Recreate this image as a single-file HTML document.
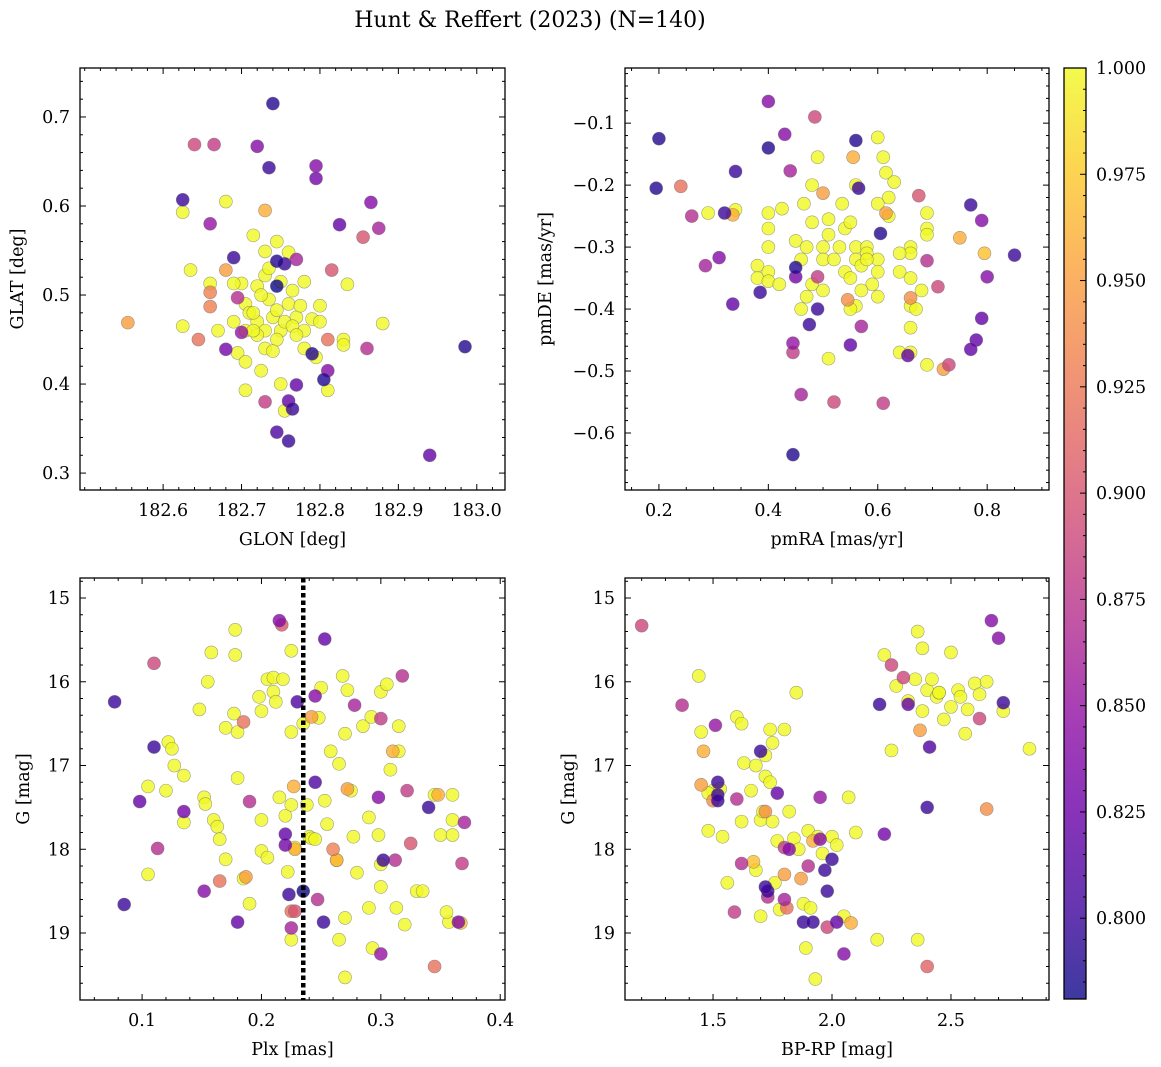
<!DOCTYPE html>
<html><head><meta charset="utf-8">
<style>
html,body{margin:0;padding:0;background:#fff;}
svg{display:block;font-family:"DejaVu Serif","Liberation Serif",serif;}
</style></head>
<body>
<svg id="fig" width="1161" height="1067" viewBox="0 0 1161 1067" xmlns="http://www.w3.org/2000/svg">
<text x="530" y="27" text-anchor="middle" font-size="22">Hunt &amp; Reffert (2023) (N=140)</text>
<defs>
<linearGradient id="plasma" x1="0" y1="1" x2="0" y2="0">
<stop offset="0" stop-color="#0d0887"/><stop offset="0.1" stop-color="#41049d"/><stop offset="0.2" stop-color="#6a00a8"/><stop offset="0.3" stop-color="#8f0da4"/><stop offset="0.4" stop-color="#b12a90"/><stop offset="0.5" stop-color="#cc4778"/><stop offset="0.6" stop-color="#e16462"/><stop offset="0.7" stop-color="#f2844b"/><stop offset="0.8" stop-color="#fca636"/><stop offset="0.9" stop-color="#fcce25"/><stop offset="1" stop-color="#f0f921"/>
</linearGradient>
</defs>
</svg>
<script>
// ---------- data ----------
const p1Dark = [[182.74,0.715,0.79],[182.735,0.643,0.8],[182.72,0.667,0.84],[182.64,0.669,0.89],[182.665,0.669,0.88],[182.625,0.607,0.8],[182.66,0.58,0.85],[182.795,0.645,0.84],[182.795,0.631,0.83],[182.865,0.604,0.84],[182.825,0.579,0.82],[182.875,0.575,0.86],[182.855,0.565,0.9],[182.755,0.535,0.8],[182.745,0.538,0.79],[182.77,0.54,0.86],[182.815,0.528,0.9],[182.69,0.542,0.8],[182.745,0.51,0.78],[182.985,0.442,0.79],[182.94,0.32,0.82],[182.68,0.439,0.83],[182.76,0.381,0.82],[182.765,0.372,0.8],[182.745,0.346,0.81],[182.76,0.336,0.8],[182.77,0.399,0.82],[182.79,0.434,0.79],[182.805,0.405,0.79],[182.81,0.415,0.84],[182.73,0.38,0.88],[182.86,0.44,0.87],[182.81,0.45,0.92],[182.645,0.45,0.92],[182.555,0.469,0.95],[182.66,0.503,0.93],[182.66,0.487,0.93],[182.68,0.528,0.95],[182.73,0.595,0.96],[182.70,0.458,0.85],[182.695,0.497,0.87]];
const p1Yellow = [[182.625,0.593],[182.68,0.605],[182.635,0.528],[182.66,0.513],[182.625,0.465],[182.67,0.46],[182.69,0.47],[182.695,0.435],[182.705,0.425],[182.705,0.393],[182.725,0.415],[182.73,0.44],[182.73,0.549],[182.715,0.567],[182.745,0.56],[182.76,0.548],[182.73,0.522],[182.72,0.51],[182.705,0.49],[182.72,0.47],[182.74,0.475],[182.75,0.46],[182.76,0.49],[182.77,0.475],[182.735,0.495],[182.745,0.483],[182.755,0.47],[182.765,0.465],[182.73,0.46],[182.745,0.45],[182.72,0.455],[182.71,0.48],[182.7,0.513],[182.69,0.513],[182.775,0.488],[182.78,0.46],[182.79,0.473],[182.8,0.47],[182.8,0.488],[182.78,0.44],[182.795,0.43],[182.81,0.393],[182.83,0.45],[182.83,0.444],[182.835,0.512],[182.88,0.468],[182.755,0.37],[182.75,0.4],[182.74,0.437],[182.715,0.48],[182.725,0.5],[182.705,0.46],[182.765,0.505],[182.77,0.455],[182.78,0.515],[182.75,0.515],[182.735,0.53],[182.715,0.46]];

const p2Dark = [[0.4,-0.065,0.84],[0.485,-0.09,0.89],[0.43,-0.118,0.84],[0.2,-0.125,0.79],[0.4,-0.14,0.79],[0.56,-0.128,0.79],[0.34,-0.178,0.8],[0.44,-0.177,0.86],[0.195,-0.205,0.79],[0.24,-0.202,0.92],[0.565,-0.205,0.8],[0.675,-0.217,0.9],[0.77,-0.232,0.8],[0.79,-0.257,0.84],[0.26,-0.25,0.87],[0.32,-0.245,0.8],[0.31,-0.317,0.84],[0.285,-0.33,0.86],[0.605,-0.278,0.79],[0.69,-0.322,0.87],[0.8,-0.348,0.84],[0.85,-0.313,0.8],[0.335,-0.392,0.82],[0.385,-0.373,0.8],[0.45,-0.333,0.79],[0.45,-0.348,0.83],[0.49,-0.348,0.88],[0.49,-0.4,0.8],[0.475,-0.425,0.8],[0.55,-0.458,0.82],[0.57,-0.428,0.86],[0.445,-0.455,0.85],[0.445,-0.47,0.88],[0.46,-0.538,0.86],[0.52,-0.55,0.89],[0.61,-0.552,0.88],[0.445,-0.635,0.79],[0.71,-0.364,0.89],[0.79,-0.415,0.82],[0.78,-0.45,0.82],[0.77,-0.465,0.82],[0.73,-0.49,0.89],[0.72,-0.497,0.95],[0.655,-0.475,0.82],[0.66,-0.382,0.94],[0.545,-0.385,0.94],[0.5,-0.213,0.95],[0.555,-0.155,0.96],[0.615,-0.245,0.95],[0.335,-0.248,0.96],[0.75,-0.285,0.96],[0.795,-0.31,0.97]];
const p2Yellow = [[0.29,-0.245],[0.34,-0.24],[0.4,-0.245],[0.425,-0.238],[0.465,-0.23],[0.49,-0.155],[0.48,-0.2],[0.51,-0.255],[0.535,-0.23],[0.56,-0.2],[0.6,-0.123],[0.61,-0.155],[0.615,-0.18],[0.63,-0.195],[0.62,-0.22],[0.6,-0.23],[0.69,-0.245],[0.69,-0.27],[0.69,-0.28],[0.66,-0.3],[0.66,-0.31],[0.64,-0.31],[0.64,-0.34],[0.66,-0.35],[0.68,-0.37],[0.66,-0.395],[0.67,-0.4],[0.66,-0.43],[0.64,-0.47],[0.66,-0.47],[0.69,-0.49],[0.38,-0.33],[0.38,-0.35],[0.4,-0.3],[0.4,-0.34],[0.4,-0.355],[0.4,-0.27],[0.42,-0.36],[0.45,-0.29],[0.46,-0.32],[0.47,-0.3],[0.48,-0.26],[0.48,-0.36],[0.5,-0.3],[0.5,-0.32],[0.51,-0.28],[0.52,-0.32],[0.53,-0.3],[0.54,-0.27],[0.54,-0.34],[0.55,-0.35],[0.56,-0.3],[0.56,-0.32],[0.57,-0.33],[0.58,-0.3],[0.58,-0.31],[0.59,-0.36],[0.6,-0.32],[0.6,-0.38],[0.56,-0.395],[0.55,-0.4],[0.57,-0.37],[0.47,-0.38],[0.46,-0.4],[0.51,-0.48],[0.55,-0.26],[0.62,-0.25],[0.6,-0.34],[0.5,-0.37],[0.58,-0.32]];

const p3Dark = [[0.077,16.24,0.8],[0.085,18.66,0.8],[0.098,17.43,0.82],[0.11,16.78,0.8],[0.11,15.78,0.89],[0.113,17.99,0.87],[0.135,17.55,0.83],[0.152,18.5,0.84],[0.18,18.87,0.82],[0.19,17.43,0.87],[0.215,15.27,0.84],[0.217,15.32,0.9],[0.22,17.82,0.82],[0.22,17.95,0.83],[0.223,18.54,0.8],[0.225,18.94,0.86],[0.228,18.74,0.9],[0.235,18.5,0.78],[0.23,16.24,0.81],[0.245,16.17,0.84],[0.245,17.2,0.81],[0.247,18.6,0.87],[0.252,18.87,0.8],[0.253,15.49,0.82],[0.278,16.28,0.86],[0.298,17.38,0.84],[0.3,19.25,0.85],[0.302,18.13,0.8],[0.3,16.44,0.88],[0.31,16.83,0.96],[0.312,18.13,0.87],[0.318,15.93,0.87],[0.322,17.3,0.88],[0.325,17.93,0.9],[0.34,17.5,0.8],[0.345,19.4,0.92],[0.348,17.35,0.96],[0.365,18.87,0.84],[0.368,18.17,0.88],[0.37,17.68,0.86],[0.367,18.88,0.97],[0.26,18.0,0.93],[0.263,18.13,0.96],[0.272,17.28,0.95],[0.227,17.25,0.96],[0.228,18.0,0.96],[0.242,16.42,0.95],[0.187,18.33,0.95],[0.165,18.38,0.92],[0.185,16.48,0.92],[0.225,18.74,0.92]];
const p3Yellow = [[0.105,18.3],[0.105,17.25],[0.12,17.3],[0.122,16.72],[0.125,16.8],[0.127,17.0],[0.135,17.12],[0.135,17.68],[0.148,16.33],[0.152,17.38],[0.153,17.46],[0.155,16.0],[0.158,15.65],[0.16,17.65],[0.163,17.73],[0.165,17.88],[0.17,18.12],[0.17,16.55],[0.177,16.38],[0.178,15.38],[0.178,15.68],[0.18,16.6],[0.18,17.15],[0.185,18.35],[0.19,18.65],[0.198,16.18],[0.2,16.35],[0.2,17.65],[0.2,18.02],[0.205,18.1],[0.205,15.97],[0.21,15.95],[0.21,16.12],[0.212,16.24],[0.215,17.38],[0.218,15.97],[0.22,17.6],[0.222,18.27],[0.225,15.63],[0.225,16.6],[0.225,17.47],[0.225,19.08],[0.228,17.98],[0.235,16.5],[0.238,17.47],[0.24,17.85],[0.242,17.87],[0.245,17.88],[0.248,16.43],[0.25,16.07],[0.253,17.42],[0.255,17.7],[0.258,16.83],[0.263,18.13],[0.265,16.98],[0.265,19.08],[0.268,15.93],[0.27,16.62],[0.27,18.82],[0.27,19.53],[0.272,16.1],[0.275,17.3],[0.277,17.85],[0.28,18.28],[0.285,16.53],[0.29,17.62],[0.29,18.7],[0.292,16.42],[0.293,19.18],[0.298,17.83],[0.3,16.12],[0.3,18.18],[0.3,18.45],[0.305,16.03],[0.308,17.05],[0.315,16.53],[0.313,18.7],[0.315,16.83],[0.32,18.9],[0.33,18.5],[0.335,18.5],[0.345,17.35],[0.35,17.83],[0.36,17.35],[0.357,18.87],[0.36,17.65],[0.36,17.83],[0.355,18.75]];
const plxCut = [0.235];

const p4Dark = [[1.2,15.33,0.89],[1.37,16.28,0.87],[1.51,16.52,0.85],[1.52,17.2,0.8],[1.52,17.35,0.8],[1.52,17.42,0.8],[1.6,17.4,0.87],[1.59,18.75,0.88],[1.62,18.17,0.87],[1.7,16.83,0.8],[1.73,18.5,0.8],[1.72,18.45,0.8],[1.73,18.57,0.87],[1.77,17.33,0.82],[1.8,18.6,0.86],[1.81,18.7,0.92],[1.8,17.98,0.88],[1.82,18.0,0.84],[1.88,18.87,0.8],[1.92,18.87,0.8],[1.9,18.2,0.87],[1.95,17.88,0.84],[1.95,17.38,0.85],[1.97,18.25,0.8],[1.98,18.5,0.8],[2.0,18.12,0.8],[1.98,18.93,0.89],[2.02,18.87,0.82],[2.05,19.25,0.84],[2.08,18.88,0.96],[2.2,16.27,0.8],[2.22,17.82,0.83],[2.25,15.8,0.89],[2.3,15.95,0.89],[2.32,16.27,0.82],[2.37,16.58,0.95],[2.41,16.78,0.81],[2.4,17.5,0.8],[2.4,19.4,0.91],[2.62,16.44,0.89],[2.65,17.52,0.94],[2.67,15.27,0.84],[2.7,15.48,0.84],[2.72,16.25,0.8],[1.46,16.83,0.96],[1.45,17.23,0.95],[1.5,17.42,0.94],[1.67,18.15,0.97],[1.72,17.55,0.94],[1.87,18.35,0.95],[1.92,17.9,0.96],[1.8,18.3,0.95]];
const p4Yellow = [[1.44,15.93],[1.45,16.6],[1.5,17.3],[1.48,17.33],[1.53,17.28],[1.48,17.78],[1.54,17.85],[1.56,18.4],[1.6,16.42],[1.62,16.5],[1.62,17.67],[1.63,16.97],[1.66,17.3],[1.68,17.0],[1.68,18.25],[1.7,17.65],[1.7,18.8],[1.71,17.55],[1.72,16.88],[1.72,17.13],[1.74,17.2],[1.74,16.57],[1.75,17.67],[1.75,16.73],[1.76,18.4],[1.77,17.9],[1.78,18.72],[1.8,16.57],[1.82,17.55],[1.84,17.87],[1.85,16.13],[1.86,18.0],[1.88,18.65],[1.89,19.18],[1.9,17.78],[1.91,18.7],[1.93,19.55],[1.94,17.85],[1.96,18.05],[2.0,17.85],[2.02,17.95],[2.05,18.8],[2.07,17.38],[2.1,17.8],[2.19,19.08],[2.22,15.68],[2.25,16.82],[2.27,16.05],[2.32,16.23],[2.35,15.97],[2.36,15.4],[2.36,19.08],[2.38,16.35],[2.4,16.1],[2.42,15.97],[2.44,16.18],[2.45,16.13],[2.47,16.45],[2.5,16.3],[2.5,15.65],[2.53,16.1],[2.54,16.18],[2.56,16.62],[2.57,16.33],[2.6,16.02],[2.62,16.15],[2.65,16.0],[2.72,16.35],[2.83,16.8],[2.38,15.6],[2.45,16.13]];

const p1XTicks = [182.6,182.7,182.8,182.9,183.0];
const p1YTicks = [0.3,0.4,0.5,0.6,0.7];
const p2XTicks = [0.2,0.4,0.6,0.8];
const p2YTicks = [-0.1,-0.2,-0.3,-0.4,-0.5,-0.6];
const p3XTicks = [0.1,0.2,0.3,0.4];
const gTicks = [15,16,17,18,19];
const p4XTicks = [1.5,2.0,2.5];
const cbTicks = [0.8,0.825,0.85,0.875,0.9,0.925,0.95,0.975,1.0];
const cMin = 0.781, cMax = 1.0;

// ---------- drawing ----------
const svg = document.getElementById('fig');
const NS = 'http://www.w3.org/2000/svg';
const FS = 17.5;
function mk(tag, attrs, parent){const e=document.createElementNS(NS,tag);for(const k in attrs)e.setAttribute(k,attrs[k]);(parent||svg).appendChild(e);return e;}
const stops=[[13,8,135],[65,4,157],[106,0,168],[143,13,164],[177,42,144],[204,71,120],[225,100,98],[242,132,75],[252,166,54],[252,206,37],[240,249,33]];
function plasma(v){let t=(v-cMin)/(cMax-cMin);t=Math.max(0,Math.min(1,t))*10;const i=Math.min(9,Math.floor(t));const f=t-i;const a=stops[i],b=stops[i+1];return 'rgb('+a.map((c,k)=>Math.round(c+(b[k]-c)*f)).join(',')+')';}

function panel(cfg){
  const {x0,y0,x1,y1,xd,yd,name}=cfg;
  const sx=v=>x0+(v-xd[0])/(xd[1]-xd[0])*(x1-x0);
  const sy=v=>y0+(v-yd[0])/(yd[1]-yd[0])*(y1-y0);
  const g=mk('g',{});
  
  
  const pts=mk('g',{},g);
  
  
  const all=cfg.dark.map(d=>[d[0],d[1],d[2]]).concat(cfg.yellow.map(d=>[d[0],d[1],1.0]));
  all.sort((a,b)=>b[2]-a[2]);
  all.forEach(d=>{
    const c=mk('circle',{cx:sx(d[0]),cy:sy(d[1]),r:6.5,fill:plasma(d[2]),'fill-opacity':0.8,stroke:'#666','stroke-opacity':0.6,'stroke-width':0.6},pts);
    
    
  });
  if(cfg.vline){cfg.vline.forEach(v=>{const l=mk('line',{x1:sx(v),x2:sx(v),y1:y0,y2:y1,stroke:'#000','stroke-width':4.5,'stroke-dasharray':'4.5 3'},g);
    
    });}
  const fr=mk('rect',{x:x0,y:y0,width:x1-x0,height:y1-y0,fill:'none',stroke:'#000','stroke-width':1.3},g);
  
  
  const ax=mk('g',{stroke:'#000','stroke-width':1},g);
  const xlo=Math.min(...xd),xhi=Math.max(...xd);
  for(let v=Math.ceil(xlo/cfg.xmin-1e-9)*cfg.xmin; v<=xhi+1e-9; v+=cfg.xmin){
    const X=sx(v);const maj=cfg.xt.some(t=>Math.abs(t-v)<cfg.xmin/3);const L=maj?6:3;
    mk('line',{x1:X,x2:X,y1:y1,y2:y1-L},ax);mk('line',{x1:X,x2:X,y1:y0,y2:y0+L},ax);
  }
  const ylo=Math.min(...yd),yhi=Math.max(...yd);
  for(let v=Math.ceil(ylo/cfg.ymin-1e-9)*cfg.ymin; v<=yhi+1e-9; v+=cfg.ymin){
    const Y=sy(v);const maj=cfg.yt.some(t=>Math.abs(t-v)<cfg.ymin/3);const L=maj?6:3;
    mk('line',{x1:x0,x2:x0+L,y1:Y,y2:Y},ax);mk('line',{x1:x1,x2:x1-L,y1:Y,y2:Y},ax);
  }
  cfg.xt.forEach(t=>{const e=mk('text',{x:sx(t),y:y1+26,'text-anchor':'middle','font-size':FS},g);e.textContent=cfg.xfmt(t);
    
    });
  cfg.yt.forEach(t=>{const e=mk('text',{x:x0-10,y:sy(t)+6,'text-anchor':'end','font-size':FS},g);e.textContent=cfg.yfmt(t);
    
    });
  const xl=mk('text',{x:(x0+x1)/2,y:y1+55,'text-anchor':'middle','font-size':FS},g);xl.textContent=cfg.xlab;
  
  
  const ly=(y0+y1)/2;const yl=mk('text',{x:cfg.ylx,y:ly,'text-anchor':'middle','font-size':FS,transform:'rotate(-90 '+cfg.ylx+' '+ly+')'},g);yl.textContent=cfg.ylab;
  
  
}
const f1=t=>t.toFixed(1);
const neg=t=>(t<0?'\u2212':'')+Math.abs(t).toFixed(1);
const f0=t=>String(t);
panel({name:'glon-glat-panel',x0:80,y0:68,x1:505,y1:490,xd:[182.494,183.036],yd:[0.755,0.281],dark:p1Dark,yellow:p1Yellow,xt:p1XTicks,yt:p1YTicks,xmin:0.02,ymin:0.02,xfmt:f1,yfmt:f1,xlab:'GLON [deg]',ylab:'GLAT [deg]',ylx:23});
panel({name:'pm-panel',x0:625,y0:68,x1:1049,y1:490,xd:[0.138,0.913],yd:[-0.011,-0.692],dark:p2Dark,yellow:p2Yellow,xt:p2XTicks,yt:p2YTicks,xmin:0.05,ymin:0.02,xfmt:f1,yfmt:neg,xlab:'pmRA [mas/yr]',ylab:'pmDE [mas/yr]',ylx:551});
panel({name:'plx-g-panel',x0:80,y0:578,x1:505,y1:1000,xd:[0.048,0.404],yd:[14.761,19.8],dark:p3Dark,yellow:p3Yellow,vline:plxCut,xt:p3XTicks,yt:gTicks,xmin:0.02,ymin:0.2,xfmt:f1,yfmt:f0,xlab:'Plx [mas]',ylab:'G [mag]',ylx:29});
panel({name:'cmd-panel',x0:625,y0:578,x1:1049,y1:1000,xd:[1.130,2.912],yd:[14.761,19.8],dark:p4Dark,yellow:p4Yellow,xt:p4XTicks,yt:gTicks,xmin:0.1,ymin:0.2,xfmt:f1,yfmt:f0,xlab:'BP-RP [mag]',ylab:'G [mag]',ylx:574});

// colorbar
const cb=mk('g',{});


const cy0=68,cy1=999,cx0=1064,cx1=1086;
const cs=v=>cy1-(v-cMin)/(cMax-cMin)*(cy1-cy0);
mk('rect',{x:cx0,y:cy0,width:cx1-cx0,height:cy1-cy0,fill:'url(#plasma)','fill-opacity':0.8},cb);
mk('rect',{x:cx0,y:cy0,width:cx1-cx0,height:cy1-cy0,fill:'none',stroke:'#000','stroke-width':1.3},cb);
for(let v=0.785;v<=1.0001;v+=0.005){const Y=cs(v);const maj=cbTicks.some(t=>Math.abs(t-v)<0.001);mk('line',{x1:cx1,x2:cx1-(maj?6:3),y1:Y,y2:Y,stroke:'#000','stroke-width':1},cb);}
cbTicks.forEach(t=>{const e=mk('text',{x:cx1+10,y:cs(t)+6,'font-size':FS},cb);e.textContent=t.toFixed(3);
  
  });
</script>
</body></html>
